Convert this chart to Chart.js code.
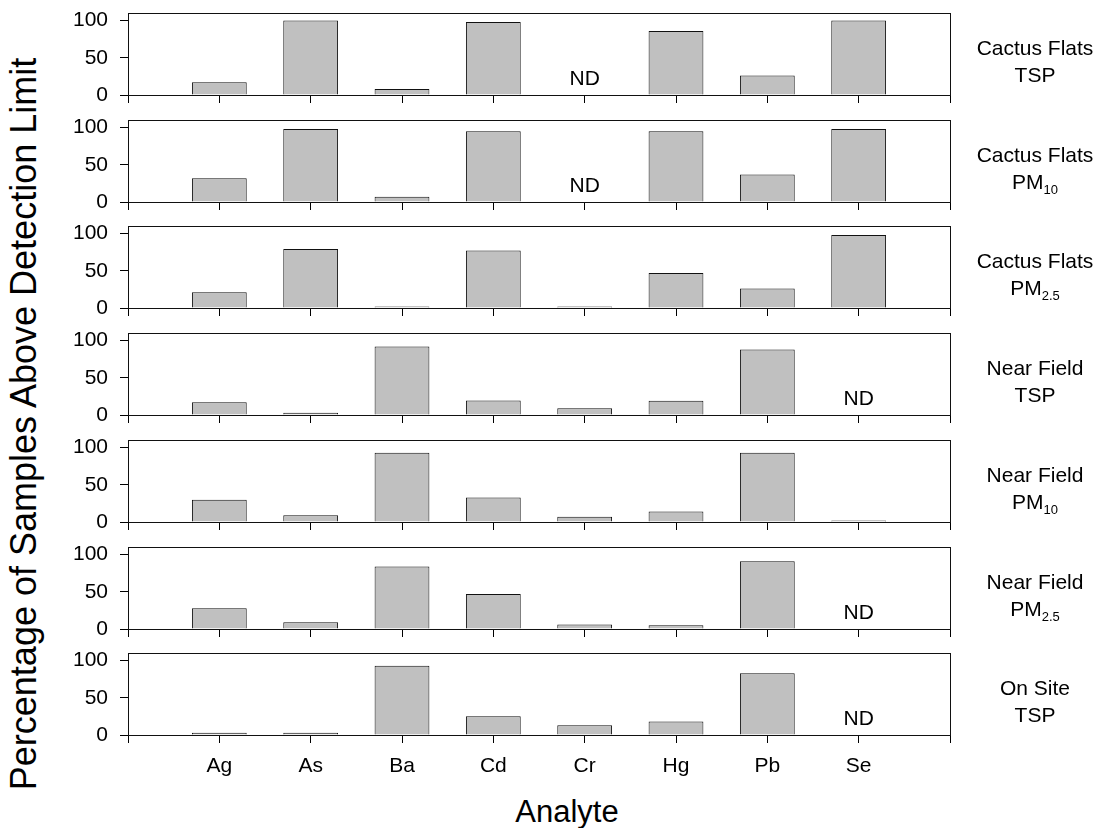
<!DOCTYPE html>
<html>
<head>
    <title>Percentage of Samples Above Detection Limit</title>
    <script src="https://cdn.jsdelivr.net/npm/chart.js"></script>
    <style>
        body { margin: 0; background: #fff; }
        .wrap { position: relative; width: 1100px; height: 828px; font-family: "Liberation Sans", Arial, sans-serif; color: #000; }
        .panel { position: absolute; left: 0; }
        .site { position: absolute; left: 960px; width: 150px; text-align: center; font-size: 21px; line-height: 27px; white-space: nowrap; }
        .site sub { font-size: 13px; vertical-align: -5px; line-height: 0; }
        #y-title { position: absolute; left: 24px; top: 424px; font-size: 36px; white-space: nowrap; transform: translate(-50%, -50%) rotate(-90deg); }
        #x-title { position: absolute; left: 567px; top: 794px; font-size: 31px; line-height: 36px; transform: translateX(-50%); }
    </style>
</head>
<body>
<div class="wrap" id="wrap">
    <div id="y-title">Percentage of Samples Above Detection Limit</div>
    <div id="x-title">Analyte</div>
</div>

<script>
    // analytes, left to right
    const analytes = ["Ag", "As", "Ba", "Cd", "Cr", "Hg", "Pb", "Se"];
    const yTicks = [0, 50, 100];

    // % of samples above detection limit (null = ND)
    const cactusFlatsTSP  = [17, 100, 8, 98, null, 86, 26, 100];
    const cactusFlatsPM10 = [32, 98, 7, 95, null, 95, 37, 98];
    const cactusFlatsPM25 = [21, 79, 2, 77, 2, 47, 26, 98];
    const nearFieldTSP    = [17, 3, 92, 19.5, 9, 19, 88, null];
    const nearFieldPM10   = [30, 9, 93, 33, 7, 14, 93, 2];
    const nearFieldPM25   = [28, 9, 84, 47, 6, 5, 91, null];
    const onSiteTSP       = [3, 3, 93, 25, 13, 18, 83, null];

    const panels = [
        { values: cactusFlatsTSP,  site: "Cactus Flats", size: "TSP" },
        { values: cactusFlatsPM10, site: "Cactus Flats", size: "PM<sub>10</sub>" },
        { values: cactusFlatsPM25, site: "Cactus Flats", size: "PM<sub>2.5</sub>" },
        { values: nearFieldTSP,    site: "Near Field",   size: "TSP" },
        { values: nearFieldPM10,   site: "Near Field",   size: "PM<sub>10</sub>" },
        { values: nearFieldPM25,   site: "Near Field",   size: "PM<sub>2.5</sub>" },
        { values: onSiteTSP,       site: "On Site",      size: "TSP" }
    ];

    const FONT = "'Liberation Sans', Arial, sans-serif";
    const PAD_TOP = 10;
    const PLOT_H = 82;

    // frame around each plot + ND markers
    const framePlugin = {
        id: "frame",
        afterDatasetsDraw(chart) {
            const { ctx, chartArea: a, scales } = chart;
            const vals = chart.data.datasets[0].data;
            ctx.save();
            ctx.fillStyle = "#000";
            ctx.font = "21px " + FONT;
            ctx.textAlign = "center";
            ctx.textBaseline = "alphabetic";
            vals.forEach((v, i) => {
                if (v === null && chart.data.labels[i] !== "") {
                    ctx.fillText("ND", scales.x.getPixelForValue(i), scales.y.getPixelForValue(0) - 10);
                }
            });
            ctx.strokeStyle = "#111";
            ctx.lineWidth = 1;
            ctx.strokeRect(a.left + 0.5, a.top + 0.5, a.right - a.left, a.bottom - a.top);
            ctx.restore();
        }
    };

    const wrap = document.getElementById("wrap");

    panels.forEach((p, idx) => {
        const last = idx === panels.length - 1;
        const xh = last ? 50 : 10;
        const top = Math.round(13 + idx * 106.7);

        const holder = document.createElement("div");
        holder.className = "panel";
        holder.style.top = (top - PAD_TOP) + "px";
        const canvas = document.createElement("canvas");
        canvas.width = 1100;
        canvas.height = PAD_TOP + PLOT_H + xh;
        holder.appendChild(canvas);
        wrap.appendChild(holder);

        const lbl = document.createElement("div");
        lbl.className = "site";
        lbl.style.top = (top + 21) + "px";
        lbl.innerHTML = p.site + "<br>" + p.size;
        wrap.appendChild(lbl);

        new Chart(canvas, {
            type: "bar",
            data: {
                labels: ["", ...analytes, ""],
                datasets: [{
                    data: [null, ...p.values, null],
                    backgroundColor: "#c0c0c0",
                    borderColor: "#111",
                    borderWidth: 1,
                    barPercentage: 1,
                    categoryPercentage: 0.6
                }]
            },
            options: {
                responsive: false,
                animation: false,
                devicePixelRatio: 1,
                layout: { padding: { left: 0, right: 150, top: PAD_TOP, bottom: 0 } },
                plugins: { legend: { display: false }, tooltip: { enabled: false } },
                scales: {
                    x: {
                        type: "category",
                        offset: false,
                        border: { color: "#000" },
                        grid: { offset: false, drawOnChartArea: false, tickLength: 8, color: "#000" },
                        ticks: {
                            display: last,
                            autoSkip: false,
                            maxRotation: 0,
                            padding: 11,
                            color: "#000",
                            font: { family: FONT, size: 21 }
                        },
                        afterFit: s => {
                            s.height = xh;
                            s.paddingLeft = 0;
                            s.paddingRight = 0;
                        }
                    },
                    y: {
                        min: 0,
                        max: 110,
                        border: { color: "#000" },
                        grid: { drawOnChartArea: false, tickLength: 8, color: "#000" },
                        ticks: { padding: 12, color: "#000", font: { family: FONT, size: 21 } },
                        afterBuildTicks: s => { s.ticks = yTicks.map(v => ({ value: v })); },
                        afterFit: s => {
                            s.width = 128;
                            s.paddingTop = 0;
                            s.paddingBottom = 0;
                        }
                    }
                }
            },
            plugins: [framePlugin]
        });
    });
</script>
</body>
</html>
